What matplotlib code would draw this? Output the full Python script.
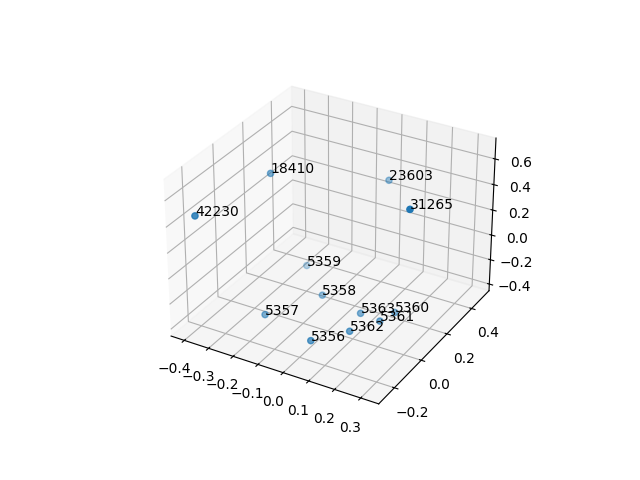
import matplotlib
matplotlib.use('Agg')
import matplotlib.pyplot as plt

labels = ['42230', '18410', '23603', '31265', '5359', '5358', '5357', '5356', '5362', '5363', '5361', '5360']
xs = [-0.342, -0.286, 0.024, 0.336, -0.223, -0.072, -0.179, 0.042, 0.127, 0.103, 0.185, 0.203]
ys = [-0.302, 0.104, 0.406, -0.048, 0.244, 0.09, -0.129, -0.195, -0.073, 0.051, 0.04, 0.118]
zs = [0.54, 0.53, 0.375, 0.73, -0.3, -0.3, -0.3, -0.3, -0.3, -0.3, -0.3, -0.3]

fig = plt.figure()
ax = fig.add_subplot(projection='3d')
ax.scatter(xs, ys, zs)
for x, y, z, name in zip(xs, ys, zs, labels):
    ax.text(x, y, z, name)
ax.set_xlim(-0.455, 0.368)
ax.set_ylim(-0.313, 0.546)
ax.set_zlim(-0.455, 0.76)
fig.savefig('out.png', dpi=100)
